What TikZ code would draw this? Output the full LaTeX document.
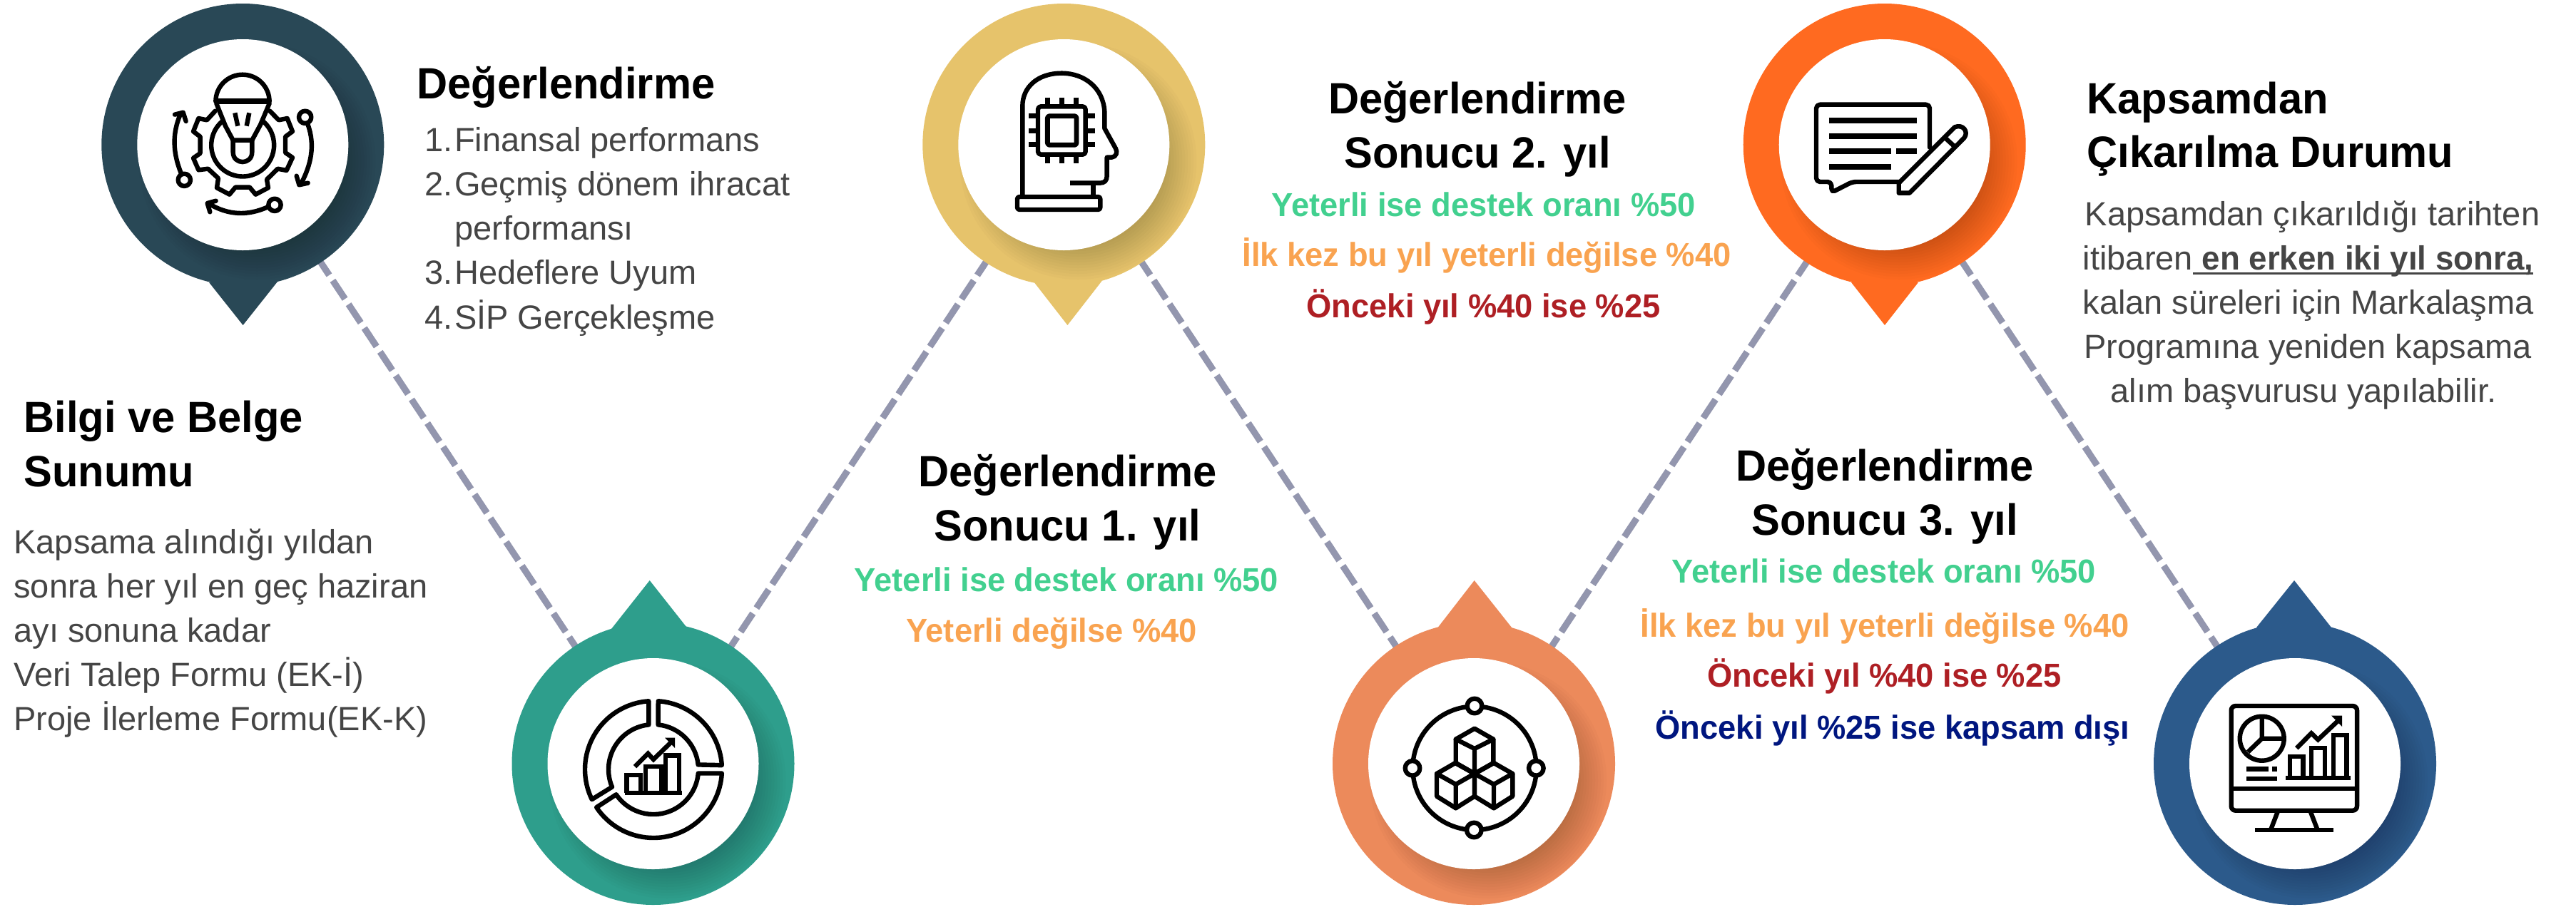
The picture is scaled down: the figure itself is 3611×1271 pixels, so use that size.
\documentclass[tikz,border=0pt]{standalone}
\usepackage{fontspec}
\setmainfont[BoldFeatures={FakeStretch=0.972}]{Liberation Sans}
\usetikzlibrary{backgrounds}
\definecolor{cA}{HTML}{294856}
\definecolor{cB}{HTML}{E6C36B}
\definecolor{cC}{HTML}{FF6A20}
\definecolor{cD}{HTML}{2E9E8C}
\definecolor{cE}{HTML}{EC8A5B}
\definecolor{cF}{HTML}{2C5A8B}
\definecolor{dashc}{HTML}{9396AE}
\definecolor{bodyc}{HTML}{454545}
\definecolor{tgreen}{HTML}{42D08F}
\definecolor{torange}{HTML}{F9A350}
\definecolor{tred}{HTML}{AE1F24}
\definecolor{tblue}{HTML}{00167F}
\tikzset{
  hd/.style={inner sep=0pt,text=black,font=\fontsize{30.7}{36}\selectfont\bfseries},
  lst/.style={inner sep=0pt,font=\fontsize{23.3}{27}\selectfont\bfseries},
  txt/.style={inner sep=0pt,text=bodyc,font=\fontsize{23.5}{28}\selectfont},
  conn/.style={draw=dashc,line width=4.6pt,dash pattern=on 15.5pt off 4.5pt},
  ico/.style={draw=black,line width=3.2pt,line join=round,line cap=round},
  icoflat/.style={draw=black,line width=3.2pt,line join=miter,line cap=butt},
  icofat/.style={draw=black,line width=4pt,line cap=butt}
}
\newcommand{\pinshape}[5]{%
  \node[circle,fill=#4,inner sep=0pt,minimum size=198pt] (#1) at (#2,#3) {};
  \fill[#4] #5 -- cycle;
  \begin{scope}
    \clip (#2,#3) circle (197.5);
    \foreach \rr in {122,126,...,168}
      \fill[black,opacity=.016] ({#2+20},{#3+23}) circle (\rr);
  \end{scope}
  \node[circle,fill=white,inner sep=0pt,minimum size=148pt] (#1w) at (#2,#3) {};
}
\newcommand{\ulb}[1]{\setbox0\hbox{#1}\rlap{\rule[-3.4pt]{\wd0}{1.6pt}}\box0}
\begin{document}
\begin{tikzpicture}[x=.5pt,y=-.5pt]
\useasboundingbox (0,0) rectangle (3611,1271);
% pins
\pinshape{ta}{340.3}{203}{cA}{(293,396) -- (340.6,456) -- (389,395)}
\pinshape{tb}{1491.3}{203}{cB}{(1450.5,397) -- (1496.4,456) -- (1544.6,394)}
\pinshape{tc}{2641.7}{203}{cC}{(2595,396) -- (2642,456) -- (2689,396)}
\pinshape{ba}{915.5}{1071}{cD}{(857,882) -- (910.7,814) -- (962,879)}
\pinshape{bb}{2066}{1071}{cE}{(2014,882) -- (2066.7,814) -- (2119,880)}
\pinshape{bc}{3217}{1071}{cF}{(3163,880) -- (3216,814) -- (3268,880)}
% connectors
\begin{scope}[on background layer]
\draw[conn,dash phase=5.8pt] (ta.center) -- (ba.center);
\draw[conn,dash phase=9pt] (ba.center) -- (tb.center);
\draw[conn,dash phase=5.9pt] (tb.center) -- (bb.center);
\draw[conn,dash phase=9.1pt] (bb.center) -- (tc.center);
\draw[conn,dash phase=5.85pt] (tc.center) -- (bc.center);
\end{scope}
% icon 1: bulb and gear
\begin{scope}[shift={(230,90)},x=.16667pt,y=-.16667pt]
\draw[ico] (217,157) arc (180:360:113);
\draw[icofat] (217,157) -- (443,157);
\draw[ico] (220,165) -- (258,260) -- (290,320) -- (370,320) -- (405,255) -- (443,165);
\draw[ico] (290,320) -- (290,370) .. controls (290,425) and (370,425) .. (370,370) -- (370,320);
\draw[icoflat] (298,205) -- (310,260) (358,205) -- (347,260);
\draw[ico] (245,240) arc (229.6:-48:132);
\draw[ico] (215,197) -- (180,235) -- (145,228) -- (123,283) -- (152,305) -- (152,375) -- (123,395) -- (145,445) -- (185,440) -- (228,480) -- (222,520) -- (275,548) -- (300,518) -- (360,518) -- (385,548) -- (438,520) -- (432,485) -- (478,440) -- (515,447) -- (540,393) -- (510,372) -- (510,305) -- (540,283) -- (518,228) -- (482,235) -- (445,197);
\draw[ico] (72,460) .. controls (35,370) and (35,290) .. (68,212);
\draw[ico] (45,212) -- (80,203) -- (92,240);
\draw[ico] (85,487) circle (26);
\draw[ico] (605,255) .. controls (635,340) and (620,420) .. (575,505);
\draw[ico] (557,470) -- (568,508) -- (605,500);
\draw[ico] (593,223) circle (26);
\draw[ico] (438,600) .. controls (350,640) and (270,635) .. (190,588);
\draw[ico] (218,575) -- (182,585) -- (193,622);
\draw[ico] (465,592) circle (26);
\end{scope}
% icon 2: head with chip
\begin{scope}[shift={(1410,90)},x=.16667pt,y=-.16667pt]
\draw[ico,line cap=butt] (270,500) -- (395,500) .. controls (415,500) and (425,490) .. (425,470) -- (425,392) -- (445,392) .. controls (465,390) and (470,370) .. (462,355) -- (415,270) -- (415,200) .. controls (410,100) and (330,38) .. (235,38) .. controls (130,38) and (70,100) .. (70,175) -- (70,555);
\draw[icoflat] (367,500) -- (367,555);
\draw[ico,rounded corners=1.5pt] (48,558) rectangle (397,612);
\draw[ico,rounded corners=2pt] (135,178) rectangle (335,380);
\draw[ico,line width=3.4pt,rounded corners=1.5pt] (175,218) rectangle (297,340);
\draw[icoflat] (175,140) -- (175,178) (235,140) -- (235,178) (295,140) -- (295,178) (175,380) -- (175,418) (235,380) -- (235,418) (295,380) -- (295,418) (96,218) -- (135,218) (96,280) -- (135,280) (96,337) -- (135,337) (335,218) -- (375,218) (335,280) -- (375,280) (335,337) -- (375,337);
\end{scope}
% icon 3: note and pen
\begin{scope}[shift={(2530,130)},x=.16667pt,y=-.16667pt]
\draw[ico,rounded corners=2.6pt] (525,230) -- (525,50) -- (48,50) -- (48,375) -- (112,375) -- (112,420) -- (200,375) -- (400,375);
\draw[icofat] (102,117) -- (470,117) (102,183) -- (470,183) (102,246) -- (362,246) (385,246) -- (470,246) (102,311) -- (362,311);
\draw[ico] (395,380) -- (395,422) -- (440,422) -- (670,190) .. controls (690,165) and (665,130) .. (630,145) -- cycle;
\draw[ico,line cap=butt] (592,192) -- (628,225);
\end{scope}
% icon 4: donut and bars
\draw[ico] ([shift={(154:96)}]916,1079) arc (154:266:96) -- ([shift={(264:63)}]916,1079) arc (264:157:63) -- cycle;
\draw[ico] ([shift={(274:96)}]916,1079) arc (274:356.5:96) -- ([shift={(354:63)}]916,1079) arc (354:276:63) -- cycle;
\draw[ico] ([shift={(3.3:96)}]916,1079) arc (3.3:146.3:96) -- ([shift={(146:63)}]916,1079) arc (146:5:63) -- cycle;
\draw[icoflat] (876,1112) -- (956,1112);
\draw[icoflat] (878.3,1112) -- (878.3,1086.7) -- (897.7,1086.7) -- (897.7,1112) (905,1112) -- (905,1075) -- (926.7,1075) -- (926.7,1112) (932.7,1112) -- (932.7,1059.3) -- (951.7,1059.3) -- (951.7,1112);
\draw[icoflat] (890,1075) -- (908.3,1056.7) -- (916,1065) -- (941.7,1040);
\fill (932,1034.5) -- (946,1034.5) -- (946,1049) -- cycle;
% icon 5: cubes in orbit
\draw[ico] (2067,1077.3) circle (86.7);
\foreach \cx/\cy/\nn in {2067/990/a,1980/1077.3/b,2153.3/1077.3/c,2066.3/1164/d}
  \draw[ico,fill=white] (\cx,\cy) circle (10.3);
\draw[ico] (2067,1021.7) -- (2093.3,1036.7) -- (2093.3,1070) -- (2067,1085) -- (2040.7,1070) -- (2040.7,1036.7) -- cycle;
\draw[ico] (2040.7,1036.7) -- (2067,1050) -- (2093.3,1036.7) (2067,1050) -- (2067,1085);
\draw[ico] (2040,1070) -- (2067,1085) -- (2067,1116.7) -- (2040.7,1133.3) -- (2014,1116.7) -- (2014,1085) -- cycle;
\draw[ico] (2014,1085) -- (2040.7,1100) -- (2067,1085) (2040.7,1100) -- (2040.7,1133.3);
\draw[ico] (2094,1070) -- (2120.3,1085) -- (2120.3,1116.7) -- (2094,1133.3) -- (2067,1116.7) -- (2067,1085) -- cycle;
\draw[ico] (2067,1085) -- (2094,1100) -- (2120.3,1085) (2094,1100) -- (2094,1133.3);
% icon 6: monitor
\draw[ico,rounded corners=3pt] (3127.7,990) rectangle (3304,1136.7);
\draw[icoflat] (3127.7,1106) -- (3304,1106);
\draw[icoflat] (3193.3,1137) -- (3183.3,1163) (3238.3,1137) -- (3248.3,1163);
\draw[icoflat] (3161.3,1164) -- (3270.7,1164);
\draw[ico] (3170.7,1035.7) circle (31);
\draw[icoflat] (3170.7,1008) -- (3170.7,1035.7) -- (3199,1035.7) (3170.7,1035.7) -- (3151,1054.7);
\draw[icoflat] (3149,1078.3) -- (3180,1078.3) (3185,1078.3) -- (3191.7,1078.3) (3149,1091.7) -- (3191.7,1091.7);
\draw[icoflat] (3204,1091) -- (3295,1091);
\draw[icoflat] (3210,1091) -- (3210,1061) -- (3228.3,1061) -- (3228.3,1091) (3240,1091) -- (3240,1049) -- (3258.7,1049) -- (3258.7,1091) (3270.7,1091) -- (3270.7,1031) -- (3289.3,1031) -- (3289.3,1091);
\draw[icoflat] (3219.3,1049.3) -- (3240,1028.3) -- (3249.3,1037.3) -- (3278.3,1010);
\fill (3268,1003.5) -- (3283,1003.5) -- (3283,1019) -- cycle;
% text: Degerlendirme
\node[hd,anchor=base west] (h1) at (584,138) {Değerlendirme};
\node[txt,anchor=base west] (n1) at (594.6,212) {1.};
\node[txt,anchor=base west] (l1) at (636.7,212) {Finansal performans};
\node[txt,anchor=base west] (n2) at (594.6,274) {2.};
\node[txt,anchor=base west] (l2) at (636.7,274) {Geçmiş dönem ihracat};
\node[txt,anchor=base west] (l2b) at (636.7,336) {performansı};
\node[txt,anchor=base west] (n3) at (594.6,398) {3.};
\node[txt,anchor=base west] (l3) at (636.7,398) {Hedeflere Uyum};
\node[txt,anchor=base west] (n4) at (594.6,461) {4.};
\node[txt,anchor=base west] (l4) at (636.7,461) {SİP Gerçekleşme};
% text: Bilgi ve Belge
\node[hd,anchor=base west] (h2) at (33,606) {Bilgi ve Belge};
\node[hd,anchor=base west] (h2b) at (33,682.5) {Sunumu};
\node[txt,anchor=base west] (b1) at (19,776) {Kapsama alındığı yıldan};
\node[txt,anchor=base west] (b2) at (19,838) {sonra her yıl en geç haziran};
\node[txt,anchor=base west] (b3) at (19,900) {ayı sonuna kadar};
\node[txt,anchor=base west] (b4) at (19,962) {Veri Talep Formu (EK-İ)};
\node[txt,anchor=base west] (b5) at (19,1024) {Proje İlerleme Formu(EK-K)};
% text: Sonucu 1
\node[hd,anchor=base] (h3) at (1496.4,682) {Değerlendirme};
\node[hd,anchor=base] (h3b) at (1496.4,758) {Sonucu 1. yıl};
\node[lst,anchor=base,text=tgreen] (y1) at (1495,829) {Yeterli ise destek oranı \%50};
\node[lst,anchor=base,text=torange] (y2) at (1474,900.7) {Yeterli değilse \%40};
% text: Sonucu 2
\node[hd,anchor=base] (h4) at (2071,159) {Değerlendirme};
\node[hd,anchor=base] (h4b) at (2071,235) {Sonucu 2. yıl};
\node[lst,anchor=base,text=tgreen] (z1) at (2079.6,303) {Yeterli ise destek oranı \%50};
\node[lst,anchor=base,text=torange] (z2) at (2084,373) {İlk kez bu yıl yeterli değilse \%40};
\node[lst,anchor=base,text=tred] (z3) at (2079.6,445) {Önceki yıl \%40 ise \%25};
% text: Sonucu 3
\node[hd,anchor=base] (h5) at (2642,674) {Değerlendirme};
\node[hd,anchor=base] (h5b) at (2642,750) {Sonucu 3. yıl};
\node[lst,anchor=base,text=tgreen] (w1) at (2641,817) {Yeterli ise destek oranı \%50};
\node[lst,anchor=base,text=torange] (w2) at (2642,893) {İlk kez bu yıl yeterli değilse \%40};
\node[lst,anchor=base,text=tred] (w3) at (2641.6,963) {Önceki yıl \%40 ise \%25};
\node[lst,anchor=base,text=tblue] (w4) at (2653,1036.5) {Önceki yıl \%25 ise kapsam dışı};
% text: Kapsamdan
\node[hd,anchor=base west] (h6) at (2925,159) {Kapsamdan};
\node[hd,anchor=base west] (h6b) at (2925,234.6) {Çıkarılma Durumu};
\node[txt,anchor=base] (k1) at (3241.5,316) {Kapsamdan çıkarıldığı tarihten};
\node[txt,anchor=base] (k2) at (3235.6,378) {itibaren\ulb{\textbf{ en erken iki yıl sonra,}}};
\node[txt,anchor=base] (k3) at (3235.6,440) {kalan süreleri için Markalaşma};
\node[txt,anchor=base] (k4) at (3235,502) {Programına yeniden kapsama};
\node[txt,anchor=base] (k5) at (3229,564.5) {alım başvurusu yapılabilir.};
\end{tikzpicture}
\end{document}
